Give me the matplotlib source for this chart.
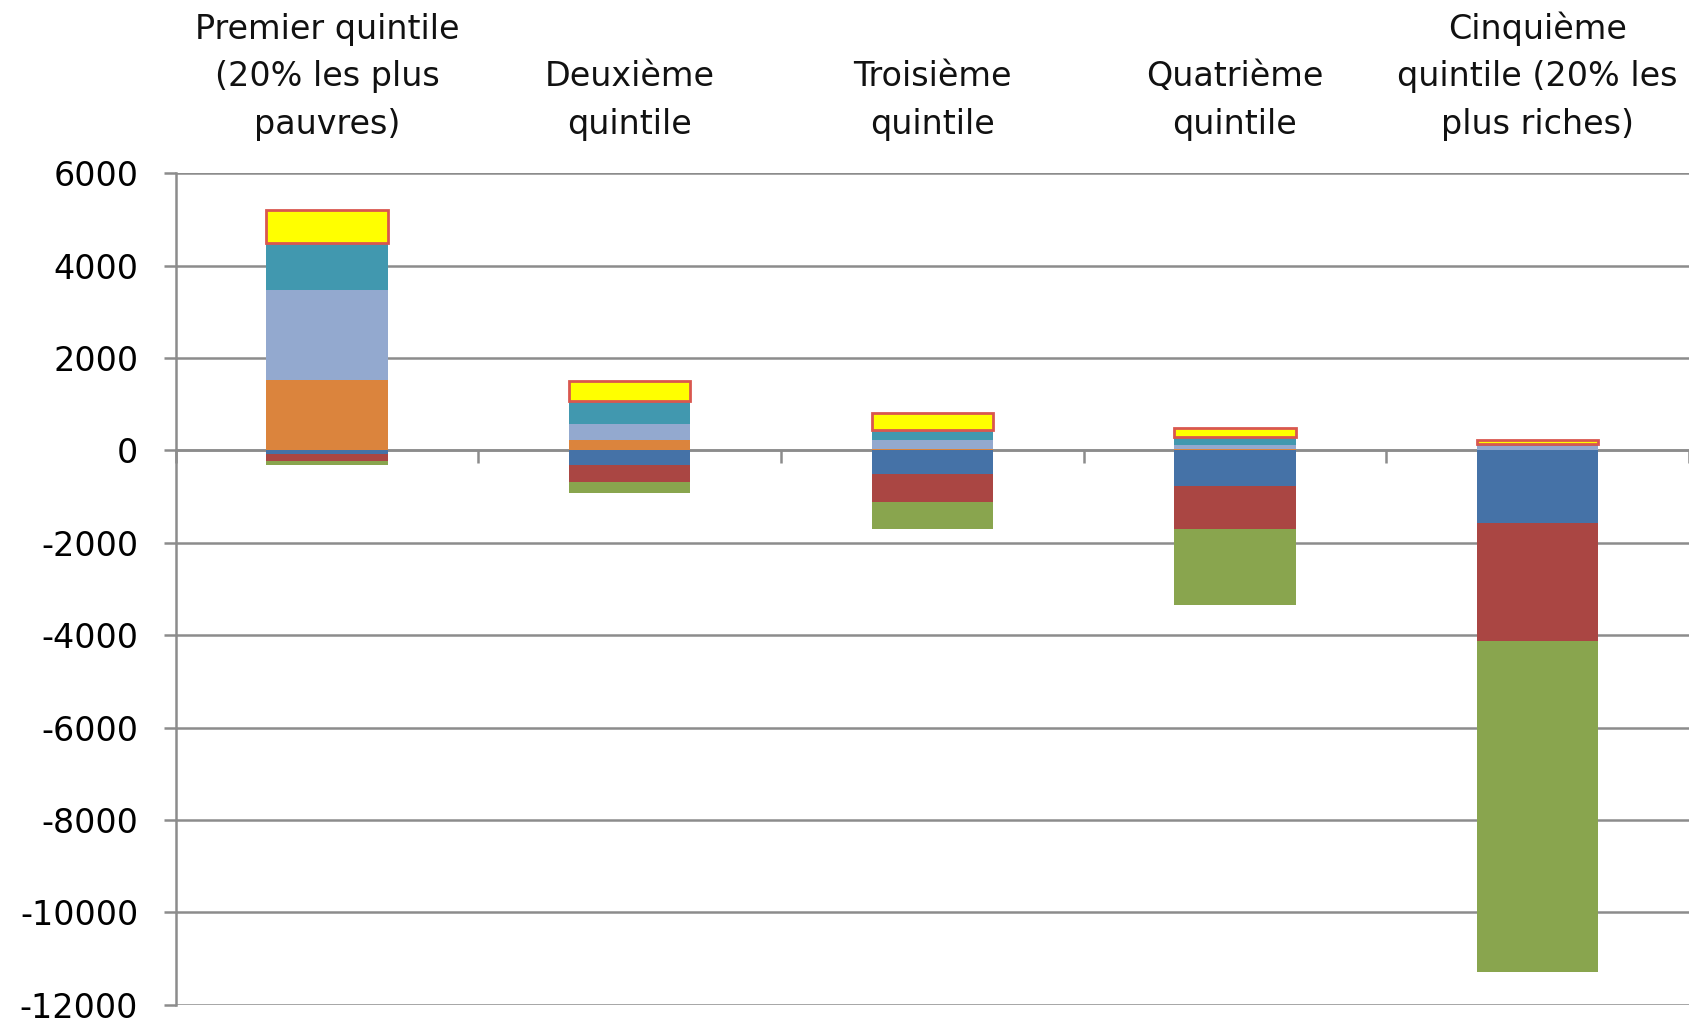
import matplotlib
matplotlib.use("Agg")
import matplotlib.pyplot as plt
import numpy as np

plt.rcParams['font.family'] = ['DejaVu Sans']

categories = ["Premier quintile\n(20% les plus\npauvres)",
              "Deuxième\nquintile",
              "Troisième\nquintile",
              "Quatrième\nquintile",
              "Cinquième\nquintile (20% les\nplus riches)"]

# positive parts, stacked upward from 0
orange = [1530, 220, 20, 20, 10]
lightblue = [1940, 360, 210, 100, 90]
teal = [1030, 480, 210, 180, 30]
yellow = [700, 440, 360, 190, 100]

# negative parts, stacked downward from 0
darkblue = [-70, -320, -520, -780, -1570]
red = [-150, -360, -590, -920, -2550]
green = [-90, -240, -600, -1650, -7180]

yticks = [6000, 4000, 2000, 0, -2000, -4000, -6000, -8000, -10000, -12000]

fig = plt.figure(figsize=(16.89, 10.19), dpi=100)
ax = fig.add_axes([0.104, 0.014, 0.896, 0.816])

x = np.arange(len(categories))
w = 0.4
grid_col = '#8c8c8c'

pos = np.zeros(len(x))
for vals, col in [(orange, '#DB843D'), (lightblue, '#93A9CF'), (teal, '#4198AF')]:
    ax.bar(x, vals, w, bottom=pos, color=col, zorder=3)
    pos += np.array(vals)
ax.bar(x, yellow, w, bottom=pos, color='#FFFF00', edgecolor='#D9574F', linewidth=2, zorder=3)

neg = np.zeros(len(x))
for vals, col in [(darkblue, '#4572A7'), (red, '#AA4643'), (green, '#89A54E')]:
    ax.bar(x, vals, w, bottom=neg, color=col, zorder=3)
    neg += np.array(vals)

ax.set_xlim(-0.5, len(x) - 0.5)
ax.set_ylim(-12000, 6000)
ax.set_yticks(yticks)
ax.set_yticklabels([str(v) for v in yticks])
ax.yaxis.grid(True, color=grid_col, linewidth=1.8, zorder=0)

ax.spines['top'].set_visible(False)
ax.spines['right'].set_visible(False)
ax.spines['bottom'].set_position(('data', 0))
ax.spines['bottom'].set_color(grid_col)
ax.spines['bottom'].set_linewidth(1.8)
ax.spines['bottom'].set_zorder(2)
ax.spines['left'].set_color(grid_col)
ax.spines['left'].set_linewidth(1.8)

ax.set_xticks(np.arange(-0.5, len(x), 1.0))
ax.set_xticklabels([])
ax.tick_params(axis='x', direction='out', length=9, width=1.8, color=grid_col)
ax.tick_params(axis='y', direction='out', length=9, width=1.8, color=grid_col,
               labelsize=24, pad=18)

for i, lab in enumerate(categories):
    ax.text(i, 1.039, lab, transform=ax.get_xaxis_transform(), ha='center', va='bottom',
            fontsize=24, linespacing=1.56, color='#111111')

fig.savefig("out.png", dpi=100)
